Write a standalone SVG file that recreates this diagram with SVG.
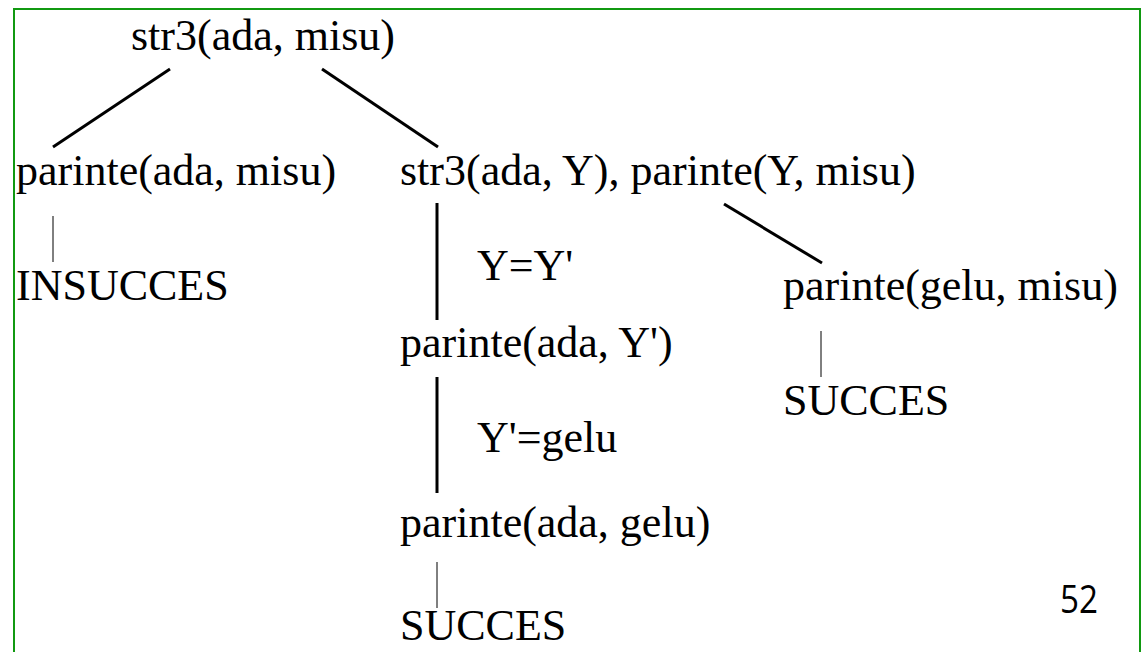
<svg xmlns="http://www.w3.org/2000/svg" width="1146" height="652" viewBox="0 0 1146 652">
<style>
.t{font-family:'Liberation Serif','DejaVu Serif',serif;font-size:44px;fill:#000}
.thick{stroke:#000;stroke-width:3;fill:none}
.thin{stroke:#000;stroke-width:1;fill:none}
</style>
<rect x="0" y="0" width="1146" height="652" fill="#fff"/>
<rect x="14" y="9" width="1126" height="700" fill="none" stroke="#119911" stroke-width="2"/>
<g id="connectors">
<line class="thick" x1="170" y1="69" x2="53" y2="147"/>
<line class="thick" x1="322" y1="69" x2="438" y2="147"/>
<line class="thin" x1="53" y1="216" x2="53" y2="262"/>
<line class="thick" x1="437" y1="203" x2="437" y2="320"/>
<line class="thick" x1="724" y1="204" x2="822" y2="263"/>
<line class="thick" x1="437" y1="377" x2="437" y2="493"/>
<line class="thin" x1="437" y1="562" x2="437" y2="608"/>
<line class="thin" x1="821" y1="331" x2="821" y2="377"/>
</g>
<g font-family="Liberation Serif, serif">
<g id="root"><text class="t" x="131" y="50">str3(ada, misu)</text></g>
<g id="n1"><text class="t" x="16" y="185">parinte(ada, misu)</text></g>
<g id="n2"><text class="t" x="400" y="185">str3(ada, Y), parinte(Y, misu)</text></g>
<g id="n3"><text class="t" x="16" y="300">INSUCCES</text></g>
<g id="l1"><text class="t" x="477" y="280">Y=Y'</text></g>
<g id="n4"><text class="t" x="783" y="300">parinte(gelu, misu)</text></g>
<g id="n5"><text class="t" x="400" y="357">parinte(ada, Y')</text></g>
<g id="n6"><text class="t" x="783" y="415">SUCCES</text></g>
<g id="l2"><text class="t" x="477" y="452">Y'=gelu</text></g>
<g id="n7"><text class="t" x="400" y="537">parinte(ada, gelu)</text></g>
<g id="n8"><text class="t" x="400" y="640">SUCCES</text></g>
</g>
<text x="1060" y="613" font-family="'Open Sans','Liberation Sans',sans-serif" font-size="38" textLength="38" lengthAdjust="spacingAndGlyphs" fill="#000">52</text>
</svg>
